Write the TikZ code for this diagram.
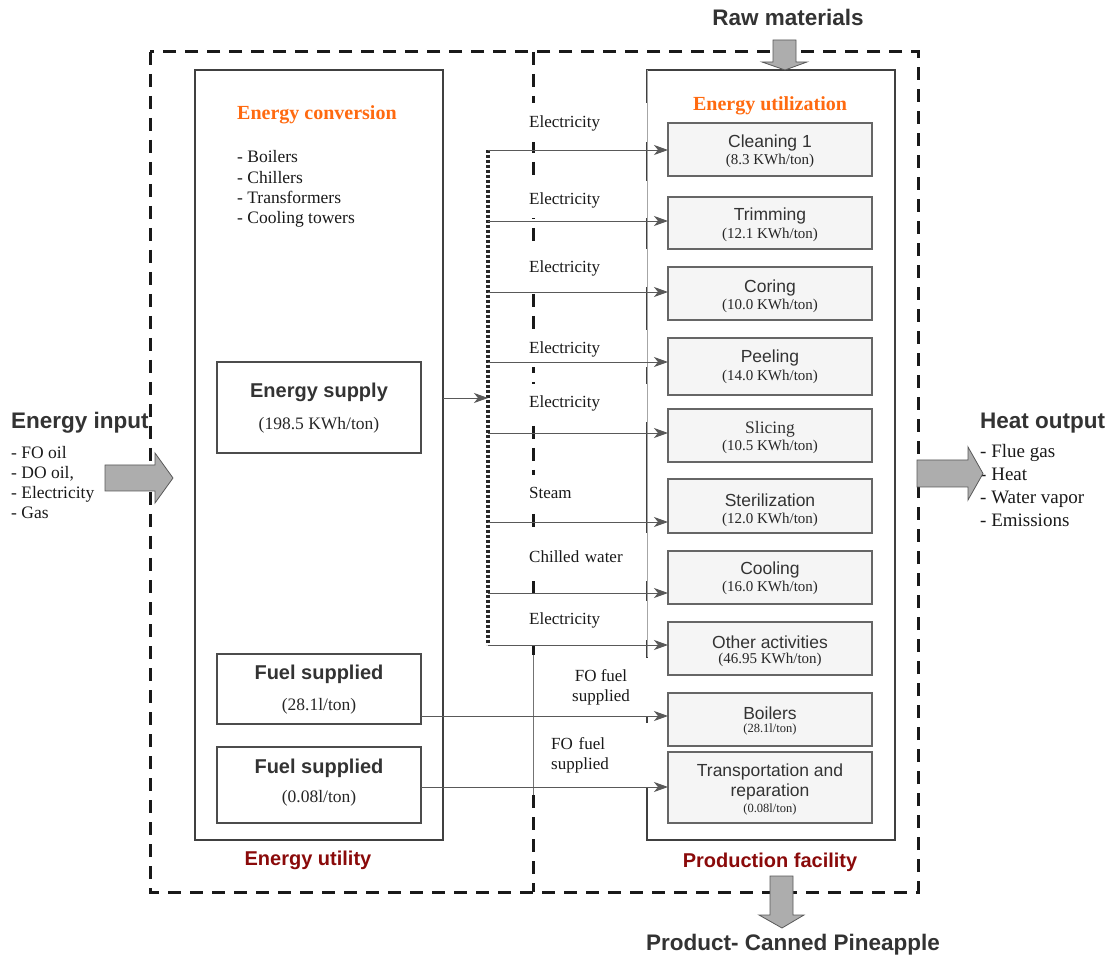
\documentclass[tikz,border=0pt]{standalone}
\usepackage{fontspec}
\setmainfont{Liberation Serif}
\setsansfont{Liberation Sans}
\usetikzlibrary{arrows.meta}
\definecolor{convorange}{HTML}{FF6A10}
\definecolor{groupred}{HTML}{8A0A0A}
\definecolor{inkgray}{HTML}{333333}
\newcommand\fsz[2]{\fontsize{#1}{#2}\selectfont}

\begin{document}
\begin{tikzpicture}[x=1pt,y=-1pt,
  outerline/.style={line width=3pt, draw=black!90, dash pattern=on 13pt off 9pt},
  bigbox/.style={draw=black!75, line width=1.6pt, minimum width=248pt, minimum height=770pt, inner sep=0pt, outer sep=0pt},
  supbox/.style={draw=black!70, line width=1.2pt, minimum width=204pt, inner sep=0pt, outer sep=0pt},
  stagebox/.style={draw=black!60, fill=black!4, line width=1.1pt, minimum width=204pt, inner sep=0pt, outer sep=0pt},
  conn/.style={draw=black!65, line width=0.9pt, -{Stealth[length=14pt,width=10pt,inset=4pt]}},
  busline/.style={draw=black!85, line width=3.2pt, dash pattern=on 2.6pt off 2.4pt},
  flowlbl/.style={fill=white, inner xsep=5pt, inner ysep=0pt, anchor=west, font=\fsz{17}{20}, text=black!90},
  blockarrow/.style={fill=black!32, draw=black!65, line width=0.8pt},
  bigtitle/.style={font=\sffamily\bfseries\fsz{22.5}{26}, text=inkgray, inner sep=0pt},
  boxtitle/.style={font=\sffamily\bfseries\fsz{20}{24}, text=inkgray, inner sep=0pt},
  convtitle/.style={font=\bfseries\fsz{20}{24}, text=convorange, inner sep=0pt},
  grouplbl/.style={font=\sffamily\bfseries\fsz{20}{24}, text=groupred, inner sep=0pt},
  serifbody/.style={font=\fsz{17.5}{20.2}, text=black!90, inner sep=0pt},
  valtext/.style={font=\fsz{17.5}{21}, text=black!85, inner sep=0pt},
  stagetitle/.style={font=\sffamily\fsz{17.5}{20}, text=inkgray, inner sep=0pt},
  stageval/.style={font=\fsz{15}{18}, text=black!85, inner sep=0pt},
  stagesmall/.style={font=\fsz{12.5}{15}, text=black!85, inner sep=0pt}
]
\useasboundingbox (0,0) rectangle (1112,957);

% ---------- outer system boundary and divider ----------
\draw[outerline] (150,52) rectangle (918,892);
\draw[outerline] (533,52) -- (533,655);
\draw[draw=black!55, line width=0.8pt] (533,655) -- (533,795);
\draw[outerline] (533,795) -- (533,892);

% ---------- the two main blocks ----------
\node[bigbox] (util) at (319,455) {};
\node[bigbox] (prod) at (771,455) {};

% ---------- energy utility contents ----------
\node[convtitle, anchor=west] (conv) at (237,115) {Energy conversion};
\node[serifbody, anchor=west, align=left] (convlist) at (237,189)
  {- Boilers\\- Chillers\\- Transformers\\- Cooling towers};

\node[supbox, minimum height=91pt] (supply) at (319,407.5) {};
\node[boxtitle] (supply-t) at (319,392) {Energy supply};
\node[valtext] (supply-v) at (319,425) {(198.5 KWh/ton)};

\node[supbox, minimum height=70pt] (fuel1) at (319,689) {};
\node[boxtitle] (fuel1-t) at (319,674) {Fuel supplied};
\node[valtext] (fuel1-v) at (319,706) {(28.1l/ton)};

\node[supbox, minimum height=76pt] (fuel2) at (319,785) {};
\node[boxtitle] (fuel2-t) at (319,768) {Fuel supplied};
\node[valtext] (fuel2-v) at (319,798) {(0.08l/ton)};

\node[grouplbl] (utillbl) at (308,860) {Energy utility};

% ---------- production facility contents ----------
\node[convtitle] (utiliz) at (770,106) {Energy utilization};

\node[stagebox, minimum height=53pt] (clean) at (770,149.5) {};
\node[stagetitle] (clean-t) at (770,143) {Cleaning 1};
\node[stageval] (clean-v) at (770,161) {(8.3 KWh/ton)};

\node[stagebox, minimum height=52pt] (trim) at (770,223) {};
\node[stagetitle] (trim-t) at (770,216) {Trimming};
\node[stageval] (trim-v) at (770,235) {(12.1 KWh/ton)};

\node[stagebox, minimum height=53pt] (core) at (770,293.5) {};
\node[stagetitle] (core-t) at (770,288) {Coring};
\node[stageval] (core-v) at (770,306) {(10.0 KWh/ton)};

\node[stagebox, minimum height=57pt] (peel) at (770,366.5) {};
\node[stagetitle] (peel-t) at (770,358) {Peeling};
\node[stageval] (peel-v) at (770,377) {(14.0 KWh/ton)};

\node[stagebox, minimum height=53pt] (slice) at (770,435.5) {};
\node[stagetitle, font=\fsz{17.5}{20}] (slice-t) at (770,429) {Slicing};
\node[stageval] (slice-v) at (770,447) {(10.5 KWh/ton)};

\node[stagebox, minimum height=54pt] (steril) at (770,506) {};
\node[stagetitle] (steril-t) at (770,500) {Sterilization};
\node[stageval] (steril-v) at (770,520) {(12.0 KWh/ton)};

\node[stagebox, minimum height=53pt] (cool) at (770,577.5) {};
\node[stagetitle] (cool-t) at (770,570) {Cooling};
\node[stageval] (cool-v) at (770,588) {(16.0 KWh/ton)};

\node[stagebox, minimum height=53pt] (other) at (770,648.5) {};
\node[stagetitle] (other-t) at (770,642) {Other activities};
\node[stageval] (other-v) at (770,660) {(46.95 KWh/ton)};

\node[stagebox, minimum height=53pt] (boil) at (770,719.5) {};
\node[stagetitle] (boil-t) at (770,713) {Boilers};
\node[stagesmall] (boil-v) at (770,729.5) {(28.1l/ton)};

\node[stagebox, minimum height=71pt] (trans) at (770,787.5) {};
\node[stagetitle, align=center] (trans-t) at (770,782) {Transportation and\\reparation};
\node[stagesmall] (trans-v) at (770,809) {(0.08l/ton)};

\node[grouplbl] (prodlbl) at (770,862) {Production facility};

% ---------- flow labels (white backing over the boundaries) ----------
\node[flowlbl, text width=116pt, minimum height=39pt] (lbl1) at (524,123) {Electricity};
\node[flowlbl, text width=116pt, minimum height=37pt] (lbl2) at (524,200) {Electricity};
\node[flowlbl, text width=116pt, minimum height=38pt] (lbl3) at (524,268) {Electricity};
\node[flowlbl, text width=116pt, minimum height=37pt] (lbl4) at (524,349) {Electricity};
\node[flowlbl, text width=116pt, minimum height=38pt] (lbl5) at (524,403) {Electricity};
\node[flowlbl, minimum height=35pt] (lbl6) at (524,493) {Steam};
\node[flowlbl, text width=116pt, minimum height=48pt] (lbl7) at (524,557) {Chilled water};
\node[flowlbl, text width=116pt, minimum height=39pt] (lbl8) at (524,620) {Electricity};
\node[flowlbl, anchor=center, align=center, minimum width=100pt, minimum height=59pt] (lbl9) at (601,687) {FO fuel\\supplied};
\node[flowlbl, text width=95pt, align=left, minimum height=64pt] (lbl10) at (546,755) {FO fuel\\supplied};

% thin guide along the left side of the production block
\draw[draw=black!35, line width=0.7pt] (prod.north west) -- ([yshift=-202pt]prod.west);

% ---------- distribution bus and connectors ----------
\coordinate (b1) at (488,150);
\coordinate (b2) at (488,221);
\coordinate (b3) at (488,292);
\coordinate (b4) at (488,362);
\coordinate (b5) at (488,433);
\coordinate (b6) at (488,522);
\coordinate (b7) at (488,593);
\coordinate (b8) at (488,645);
\coordinate (bin) at (488,398);
\coordinate (f1) at (500,716);
\coordinate (f2) at (500,787);

\draw[busline] (b1) -- (b8);
\draw[conn] (bin -| util.east) -- (bin);
\draw[conn] (b1) -- (b1 -| clean.west);
\draw[conn] (b2) -- (b2 -| trim.west);
\draw[conn] (b3) -- (b3 -| core.west);
\draw[conn] (b4) -- (b4 -| peel.west);
\draw[conn] (b5) -- (b5 -| slice.west);
\draw[conn] (b6) -- (b6 -| steril.west);
\draw[conn] (b7) -- (b7 -| cool.west);
\draw[conn] (b8) -- (b8 -| other.west);
\draw[conn] (f1 -| fuel1.east) -- (f1 -| boil.west);
\draw[conn] (f2 -| fuel2.east) -- (f2 -| trans.west);

% ---------- inputs and outputs ----------
\node[bigtitle, anchor=west] (inlbl) at (11,423) {Energy input};
\node[serifbody, anchor=west, align=left] (inlist) at (11,482.5)
  {- FO oil\\- DO oil,\\- Electricity\\- Gas};
\filldraw[blockarrow] (105,465) -- (155,465) -- (155,453) -- (173,478)
  -- (155,503) -- (155,491) -- (105,491) -- cycle;

\node[bigtitle, anchor=west] (outlbl) at (980,423) {Heat output};
\node[serifbody, font=\fsz{19}{23}, anchor=west, align=left] (outlist) at (980,485.5)
  {- Flue gas\\- Heat\\- Water vapor\\- Emissions};
\filldraw[blockarrow] (917,460) -- (968,460) -- (968,447) -- (983,473.5)
  -- (968,500) -- (968,487) -- (917,487) -- cycle;

\node[bigtitle] (rawlbl) at (788,17) {Raw materials};
\filldraw[blockarrow] (773,40) -- (796,40) -- (796,62) -- (807,62) -- (785,70)
  -- (762,62) -- (773,62) -- cycle;

\node[bigtitle] (prodout) at (793,945) {Product- Canned Pineapple};
\filldraw[blockarrow] (770,876) -- (793,876) -- (793,915) -- (804,915) -- (782,928)
  -- (759,915) -- (770,915) -- cycle;
\end{tikzpicture}
\end{document}
